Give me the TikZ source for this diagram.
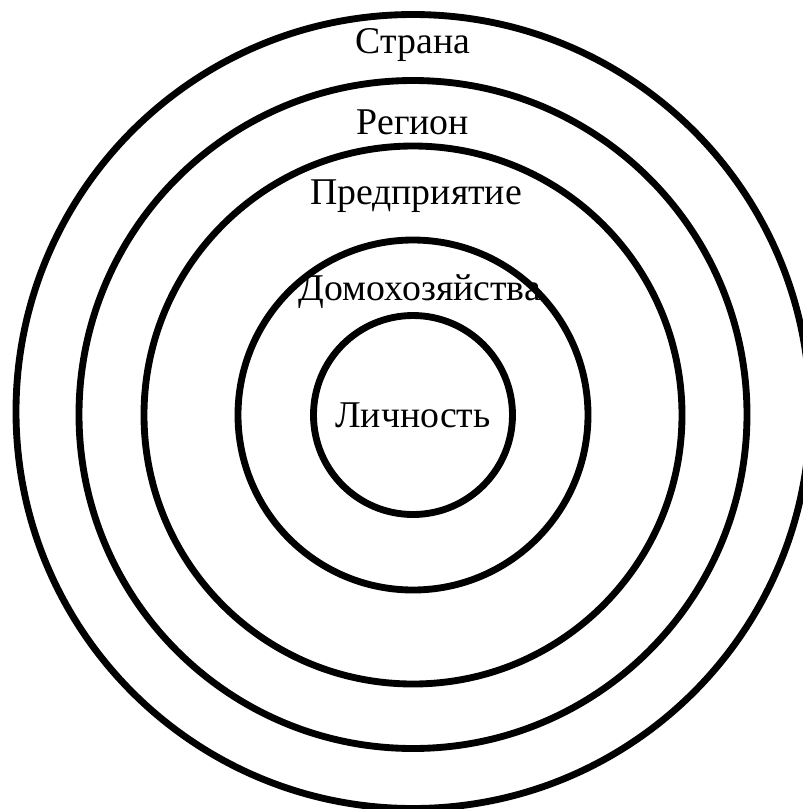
\documentclass[tikz,border=0pt]{standalone}
\usepackage{fontspec}
\setmainfont{Liberation Serif}
\usetikzlibrary{positioning}
\tikzset{
    ring/.style={circle,draw,line width=3.9pt,inner sep=0pt},
    lbl/.style={inner sep=1pt,font=\fontsize{21.5}{25}\selectfont}
}

\begin{document}
\begin{tikzpicture}
    \useasboundingbox (0,0) rectangle (16.06,-16.18);
    \node[ring,minimum size=15.88cm] (country) at (8.26,-8.23) {};
    \node[ring,minimum size=13.36cm] (region) at (8.26,-8.29) {};
    \node[ring,minimum size=10.76cm] (firm) at (8.26,-8.3) {};
    \node[ring,minimum size=7.0cm] (house) at (8.26,-8.3) {};
    \node[ring,minimum size=3.98cm] (person) at (8.26,-8.3) {};
    \node[lbl] (countrylbl) at (8.26,-0.9) {Страна};
    \node[lbl] (regionlbl) at (8.26,-2.44) {Регион};
    \node[lbl] (firmlbl) at (8.32,-3.92) {Предприятие};
    \node[lbl] (houselbl) at (8.4,-5.84) {Домохозяйства};
    \node[lbl] (personlbl) at (person.center) {Личность};
\end{tikzpicture}
\end{document}
